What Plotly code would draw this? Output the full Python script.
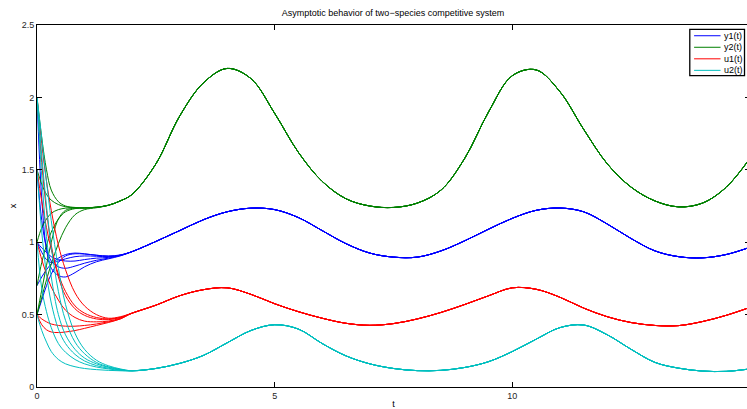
import plotly.graph_objects as go

# ---------------- data ----------------
# transient part (different initial conditions)
t_trans = [0, 0.1, 0.2, 0.3, 0.45, 0.6, 0.8, 1.0, 1.25, 1.5, 1.75]
# common asymptotic part
t_common = [2.0, 2.5, 3.0, 3.5, 4.0, 4.5, 5.0, 5.5, 6.0, 6.5, 7.0, 7.5, 8.0, 8.5,
            9.0, 9.5, 10.0, 10.5, 11.0, 11.5, 12.0, 12.5, 13.0, 13.5, 14.0, 14.5, 15.0]

y1_common = [0.935, 1.005, 1.08, 1.155, 1.21, 1.235, 1.225, 1.17, 1.08, 0.99, 0.925, 0.897, 0.897, 0.94,
             1.01, 1.09, 1.165, 1.22, 1.236, 1.21, 1.125, 1.025, 0.94, 0.90, 0.892, 0.915, 0.965]
y2_common = [1.33, 1.54, 1.87, 2.10, 2.20, 2.13, 1.89, 1.62, 1.42, 1.30, 1.25, 1.24, 1.27, 1.36,
             1.58, 1.90, 2.15, 2.19, 2.04, 1.78, 1.54, 1.38, 1.285, 1.244, 1.27, 1.38, 1.58]
u1_common = [0.51, 0.565, 0.63, 0.672, 0.685, 0.64, 0.575, 0.52, 0.475, 0.44, 0.426, 0.438, 0.47, 0.515,
             0.57, 0.63, 0.685, 0.675, 0.62, 0.545, 0.485, 0.445, 0.425, 0.424, 0.452, 0.495, 0.55]
u2_common = [0.112, 0.128, 0.163, 0.218, 0.305, 0.39, 0.43, 0.40, 0.30, 0.215, 0.16, 0.128, 0.113, 0.115,
             0.135, 0.175, 0.245, 0.33, 0.41, 0.428, 0.36, 0.26, 0.17, 0.13, 0.11, 0.108, 0.125]

y1_trans = [
    [2.0, 1.30, 0.95, 0.82, 0.77, 0.76, 0.79, 0.83, 0.865, 0.885, 0.905],
    [1.5, 1.15, 0.96, 0.87, 0.83, 0.82, 0.835, 0.855, 0.875, 0.89, 0.908],
    [1.0, 0.96, 0.93, 0.90, 0.88, 0.87, 0.87, 0.88, 0.89, 0.895, 0.91],
    [1.0, 0.93, 0.88, 0.86, 0.87, 0.885, 0.90, 0.905, 0.903, 0.90, 0.91],
    [0.7, 0.76, 0.81, 0.85, 0.89, 0.915, 0.925, 0.92, 0.91, 0.905, 0.912],
    [0.5, 0.60, 0.70, 0.78, 0.86, 0.905, 0.92, 0.918, 0.91, 0.903, 0.91],
]
y2_trans = [
    [2.0, 1.72, 1.50, 1.36, 1.28, 1.25, 1.24, 1.237, 1.242, 1.255, 1.285],
    [1.5, 1.40, 1.33, 1.29, 1.26, 1.245, 1.238, 1.237, 1.242, 1.255, 1.285],
    [1.0, 1.10, 1.16, 1.20, 1.225, 1.235, 1.238, 1.237, 1.242, 1.255, 1.285],
    [0.7, 0.86, 0.98, 1.07, 1.16, 1.21, 1.232, 1.236, 1.241, 1.255, 1.285],
    [0.5, 0.67, 0.84, 1.00, 1.16, 1.22, 1.235, 1.236, 1.241, 1.255, 1.285],
    [0.5, 0.62, 0.74, 0.85, 0.99, 1.10, 1.19, 1.225, 1.238, 1.254, 1.285],
]
u1_trans = [
    [2.0, 1.55, 1.22, 0.98, 0.76, 0.63, 0.54, 0.495, 0.47, 0.465, 0.48],
    [2.0, 1.68, 1.42, 1.22, 0.98, 0.81, 0.65, 0.56, 0.50, 0.475, 0.485],
    [1.5, 1.28, 1.10, 0.95, 0.78, 0.66, 0.56, 0.51, 0.48, 0.47, 0.48],
    [1.0, 0.88, 0.78, 0.69, 0.60, 0.53, 0.48, 0.455, 0.45, 0.455, 0.475],
    [0.5, 0.47, 0.45, 0.435, 0.425, 0.42, 0.42, 0.425, 0.435, 0.45, 0.47],
    [0.5, 0.43, 0.395, 0.38, 0.376, 0.38, 0.39, 0.405, 0.425, 0.445, 0.47],
]
u2_trans = [
    [0.5, 0.39, 0.31, 0.245, 0.19, 0.16, 0.14, 0.128, 0.12, 0.115, 0.112],
    [1.0, 0.68, 0.52, 0.41, 0.30, 0.24, 0.19, 0.16, 0.138, 0.125, 0.115],
    [1.5, 1.07, 0.78, 0.58, 0.40, 0.30, 0.225, 0.18, 0.148, 0.13, 0.118],
    [2.0, 1.45, 1.04, 0.76, 0.50, 0.36, 0.26, 0.20, 0.16, 0.136, 0.12],
    [2.0, 1.60, 1.25, 0.97, 0.66, 0.46, 0.31, 0.23, 0.17, 0.14, 0.122],
    [2.0, 1.72, 1.42, 1.15, 0.82, 0.57, 0.37, 0.26, 0.185, 0.147, 0.125],
]

series_names = ["y1(t)", "y2(t)", "u1(t)", "u2(t)"]
series_colors = ["#0000ff", "#008000", "#ff0000", "#00bfbf"]
y_ticks = [0, 0.5, 1, 1.5, 2, 2.5]
y_tick_text = ["0", "0.5", "1", "1.5", "2", "2.5"]
x_ticks = [0, 5, 10, 15]
x_tick_text = ["0", "5", "10", "15"]

# ---------------- layout geometry ----------------
# The figure is slightly wider than the window (like the reference, whose right
# axis edge lies just beyond the visible area); body margin is removed.
FIG_W, FIG_H = 751, 409
M_L, M_R, M_T, M_B = 37, 0, 25, 20
PW, PH = FIG_W - M_L - M_R, FIG_H - M_T - M_B


def px_x(px):
    return (px - M_L) / PW


def px_y(py):
    return 1 - (py - M_T) / PH


FONT = "Liberation Sans, Arial, sans-serif"

# ---------------- figure ----------------
fig = go.Figure()
all_trans = [y1_trans, y2_trans, u1_trans, u2_trans]
all_common = [y1_common, y2_common, u1_common, u2_common]

for name, color, trans, common in zip(series_names, series_colors, all_trans, all_common):
    for k, tr in enumerate(trans):
        fig.add_trace(go.Scatter(
            x=t_trans + t_common,
            y=tr + common,
            mode="lines",
            line=dict(color=color, width=1, shape="spline", smoothing=1.0),
            name=name,
            showlegend=False,
            hoverinfo="skip",
        ))

axis_common = dict(
    showline=True, linecolor="black", linewidth=1, mirror="ticks",
    ticks="inside", ticklen=5, tickcolor="black", showgrid=False, zeroline=False,
    tickfont=dict(family=FONT, size=9, color="#262626"),
)

# MATLAB-style legend box (drawn as shapes + text)
shapes = [dict(type="rect", xref="paper", yref="paper",
               x0=px_x(690.7), x1=px_x(745.5), y0=px_y(76.0), y1=px_y(29.3),
               fillcolor="white", line=dict(color="black", width=1.3), layer="above")]
annotations = []
row_y = [35.8, 47.4, 59.0, 70.6]
for name, color, ry in zip(series_names, series_colors, row_y):
    shapes.append(dict(type="line", xref="paper", yref="paper",
                       x0=px_x(695), x1=px_x(721.5), y0=px_y(ry), y1=px_y(ry),
                       line=dict(color=color, width=1), layer="above"))
    annotations.append(dict(text=name, xref="paper", yref="paper",
                            x=px_x(723), y=px_y(ry), xanchor="left", yanchor="middle",
                            showarrow=False, font=dict(family=FONT, size=9, color="black")))

fig.update_layout(
    width=FIG_W, height=FIG_H,
    margin=dict(l=M_L, r=M_R, t=M_T, b=M_B),
    paper_bgcolor="white", plot_bgcolor="white",
    title=dict(text="Asymptotic behavior of two\u2212species competitive system",
               x=393 / FIG_W, xanchor="center", xref="container",
               y=1 - 12.5 / FIG_H, yanchor="middle", yref="container",
               font=dict(family=FONT, size=9, color="black")),
    xaxis=dict(range=[0, 15], tickvals=x_ticks, ticktext=x_tick_text,
               title=dict(text="t", standoff=2, font=dict(family=FONT, size=9, color="black")),
               **axis_common),
    yaxis=dict(range=[0, 2.5], tickvals=y_ticks, ticktext=y_tick_text,
               title=dict(text="x", standoff=3, font=dict(family=FONT, size=9, color="black")),
               **axis_common),
    shapes=shapes,
    annotations=annotations,
    showlegend=False,
)

fig.write_html(
    "out.html",
    config={"displayModeBar": False},
    post_script="document.body.style.margin='0';document.body.style.overflow='hidden';",
)
